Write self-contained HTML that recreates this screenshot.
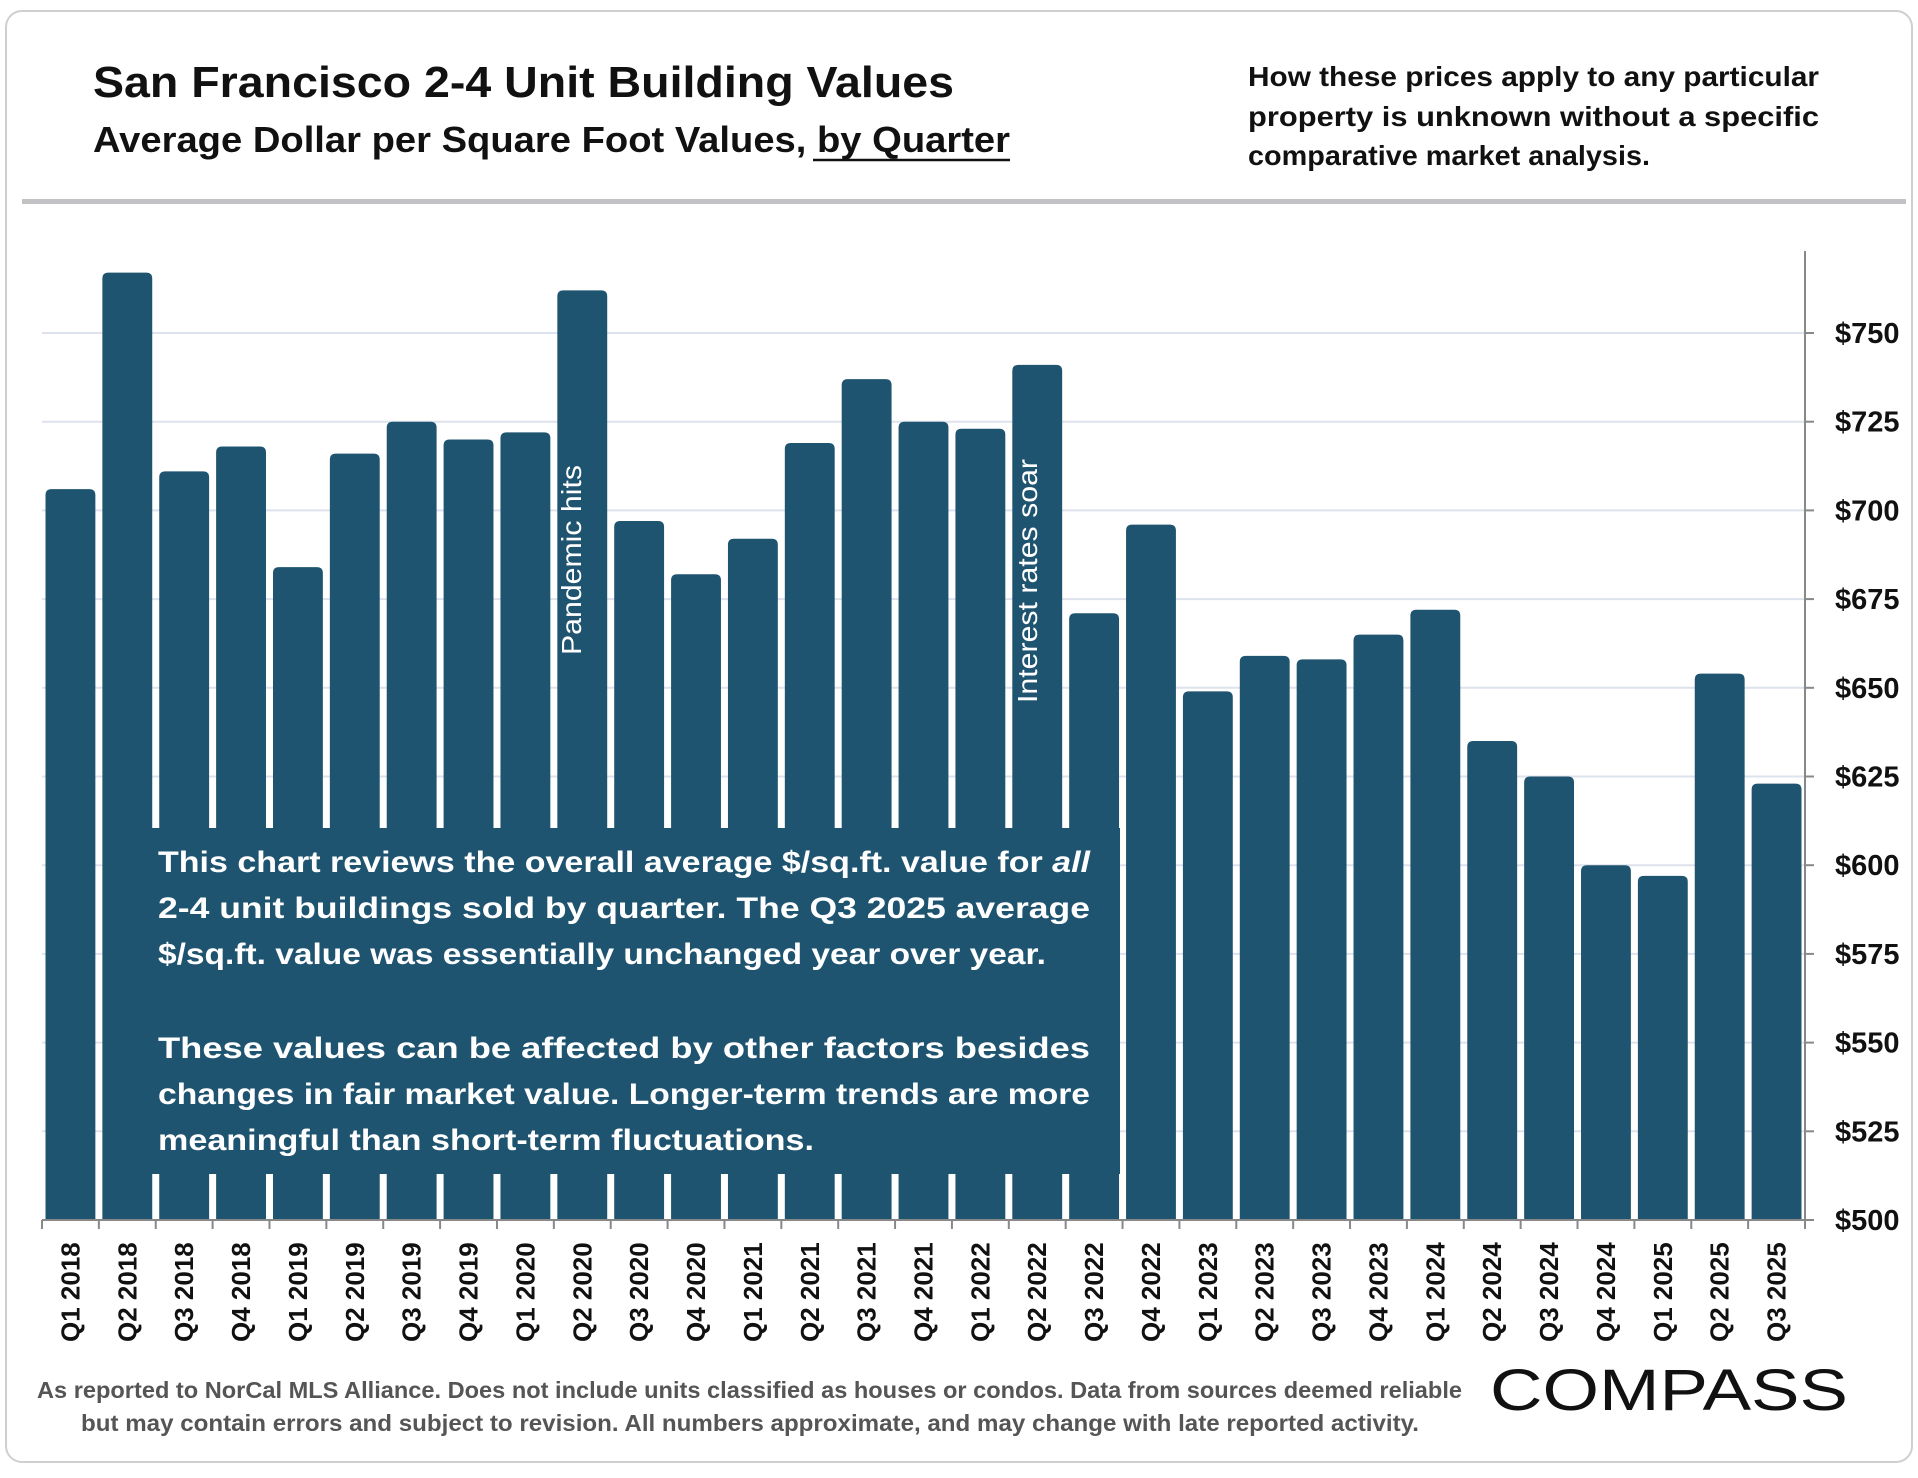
<!DOCTYPE html>
<html><head><meta charset="utf-8"><style>
html,body{margin:0;padding:0;background:#fff;}
svg{display:block;font-family:"Liberation Sans",sans-serif;}
</style></head><body>
<svg id="chart" width="1918" height="1478" viewBox="0 0 1918 1478" xmlns="http://www.w3.org/2000/svg">
<rect x="6" y="11" width="1906" height="1451" rx="16" fill="#fff" stroke="#cfcfcf" stroke-width="2"/>
<text x="93" y="97" font-size="44" font-weight="bold" fill="#111" textLength="861" lengthAdjust="spacingAndGlyphs">San Francisco 2-4 Unit Building Values</text>
<text x="93" y="152" font-size="36" font-weight="bold" fill="#111" textLength="917" lengthAdjust="spacingAndGlyphs">Average Dollar per Square Foot Values, by Quarter</text>
<line x1="813" y1="160" x2="1010" y2="160" stroke="#111" stroke-width="2.5"/>
<g font-size="28" font-weight="bold" fill="#111">
<text x="1248" y="86" textLength="571" lengthAdjust="spacingAndGlyphs">How these prices apply to any particular</text>
<text x="1248" y="126" textLength="571" lengthAdjust="spacingAndGlyphs">property is unknown without a specific</text>
<text x="1248" y="165" textLength="402" lengthAdjust="spacingAndGlyphs">comparative market analysis.</text>
</g>
<rect x="22" y="199" width="1884" height="5" fill="#c2c2c4"/>
<g id="plot"></g>
<rect x="103" y="828" width="1017" height="346" fill="#1f5470"/>
<g font-size="30" font-weight="bold" fill="#fff">
<text x="158" y="872" textLength="932" lengthAdjust="spacingAndGlyphs">This chart reviews the overall average $/sq.ft. value for <tspan font-style="italic">all</tspan></text>
<text x="158" y="918" textLength="932" lengthAdjust="spacingAndGlyphs">2-4 unit buildings sold by quarter. The Q3 2025 average</text>
<text x="158" y="964" textLength="888" lengthAdjust="spacingAndGlyphs">$/sq.ft. value was essentially unchanged year over year.</text>
<text x="158" y="1058" textLength="932" lengthAdjust="spacingAndGlyphs">These values can be affected by other factors besides</text>
<text x="158" y="1104" textLength="932" lengthAdjust="spacingAndGlyphs">changes in fair market value. Longer-term trends are more</text>
<text x="158" y="1150" textLength="656" lengthAdjust="spacingAndGlyphs">meaningful than short-term fluctuations.</text>
</g>
<text transform="translate(581,655) rotate(-90)" font-size="28" fill="#fff" textLength="190" lengthAdjust="spacingAndGlyphs">Pandemic hits</text>
<text transform="translate(1037,703) rotate(-90)" font-size="28" fill="#fff" textLength="244" lengthAdjust="spacingAndGlyphs">Interest rates soar</text>
<g font-size="23" fill="#555" font-weight="bold">
<text x="37" y="1398" textLength="1425" lengthAdjust="spacingAndGlyphs">As reported to NorCal MLS Alliance. Does not include units classified as houses or condos. Data from sources deemed reliable</text>
<text x="81" y="1431" textLength="1338" lengthAdjust="spacingAndGlyphs">but may contain errors and subject to revision. All numbers approximate, and may change with late reported activity.</text>
</g>
<text x="1490" y="1410" font-size="58" fill="#111" textLength="358" lengthAdjust="spacingAndGlyphs">COMPASS</text>
</svg>
<script>
const categories = ["Q1 2018","Q2 2018","Q3 2018","Q4 2018","Q1 2019","Q2 2019","Q3 2019","Q4 2019","Q1 2020","Q2 2020","Q3 2020","Q4 2020","Q1 2021","Q2 2021","Q3 2021","Q4 2021","Q1 2022","Q2 2022","Q3 2022","Q4 2022","Q1 2023","Q2 2023","Q3 2023","Q4 2023","Q1 2024","Q2 2024","Q3 2024","Q4 2024","Q1 2025","Q2 2025","Q3 2025"];
const values = [706,767,711,718,684,716,725,720,722,762,697,682,692,719,737,725,723,741,671,696,649,659,658,665,672,635,625,600,597,654,623];
const yTicks = [500,525,550,575,600,625,650,675,700,725,750];
const yTickLabels = ["$500","$525","$550","$575","$600","$625","$650","$675","$700","$725","$750"];

const NS = "http://www.w3.org/2000/svg";
const plotL = 42, plotR = 1805, baseY = 1220, topY = 333;
const yMin = 500, yMax = 750;
const band = (plotR - plotL) / categories.length;
function y(v){ return baseY - (v - yMin) / (yMax - yMin) * (baseY - topY); }
function xc(i){ return plotL + band * (i + 0.5); }
const g = document.getElementById('plot');
function mk(tag, attrs){ const e = document.createElementNS(NS, tag); for (const k in attrs) e.setAttribute(k, attrs[k]); g.appendChild(e); return e; }

yTicks.forEach((t, i) => {
  if (i > 0) {
    const gl = mk('line', {x1: plotL, x2: plotR, y1: y(t), y2: y(t), stroke: '#dde3ec', 'stroke-width': 2});
    
    
  }
  const tk = mk('line', {x1: plotR, x2: plotR + 9, y1: y(t), y2: y(t), stroke: '#888', 'stroke-width': 2});
  
  
  const lb = mk('text', {x: 1835, y: y(t) + 10, 'font-size': 29, 'font-weight': 'bold', fill: '#111'});
  lb.textContent = yTickLabels[i];
  
  
});

values.forEach((v, i) => {
  const w = band - 7, x0 = xc(i) - w / 2, yt = y(v), r = 6;
  const p = mk('path', {d: `M${x0},${baseY} V${yt + r} Q${x0},${yt} ${x0 + r},${yt} H${x0 + w - r} Q${x0 + w},${yt} ${x0 + w},${yt + r} V${baseY} Z`, fill: '#1f5470'});
  
  
  const lb = mk('text', {transform: `translate(${xc(i) + 9},1342) rotate(-90)`, 'font-size': 26, 'font-weight': 'bold', fill: '#111'});
  lb.textContent = categories[i];
  
  
});
for (let i = 0; i <= categories.length; i++) {
  const x = plotL + band * i;
  const tk = mk('line', {x1: x, x2: x, y1: baseY, y2: baseY + 9, stroke: '#888', 'stroke-width': 2});
  
  
}
const ax = mk('line', {x1: plotL, x2: plotR, y1: baseY, y2: baseY, stroke: '#888', 'stroke-width': 2});


const ay = mk('line', {x1: plotR, x2: plotR, y1: 251, y2: baseY, stroke: '#888', 'stroke-width': 2});


</script>
</body></html>
